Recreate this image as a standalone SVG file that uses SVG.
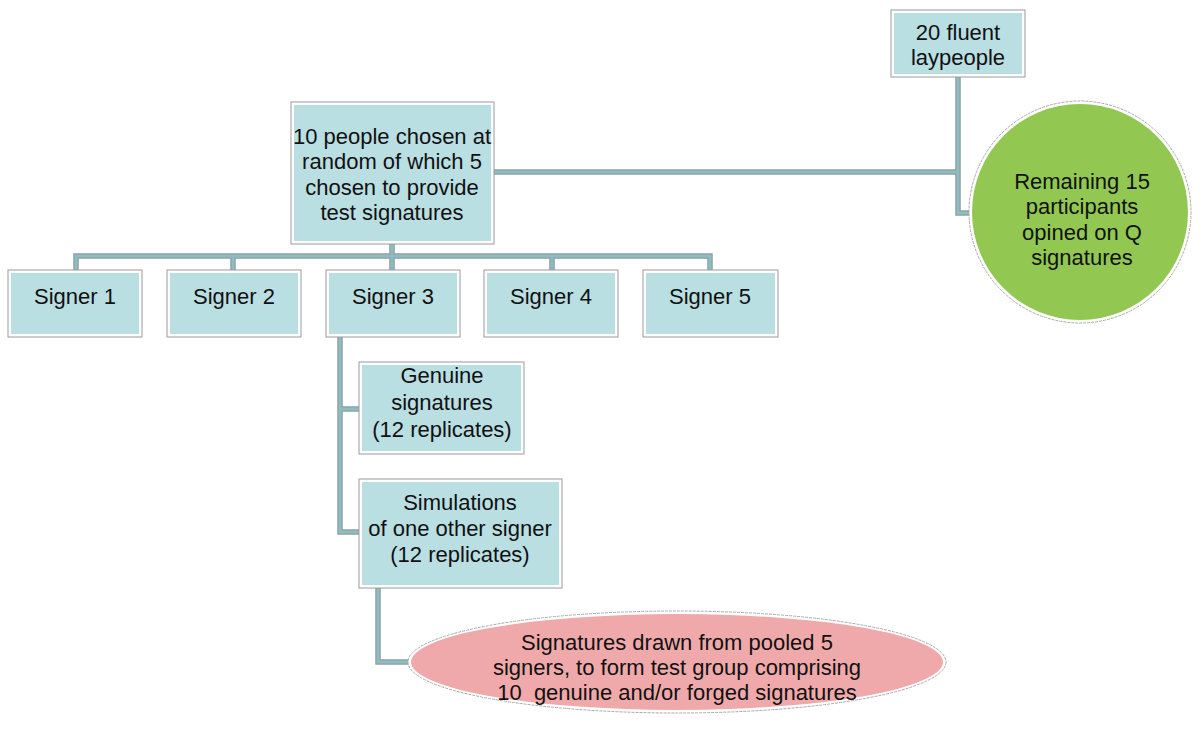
<svg xmlns="http://www.w3.org/2000/svg" width="1200" height="733" viewBox="0 0 1200 733">
<style>
.outer{fill:#ffffff;stroke:#9a9a9a;stroke-width:1}
.inner{fill:#b9dfe2}
.t{font-family:"Liberation Sans",Arial,sans-serif;font-size:22px;fill:#111;text-anchor:middle}
.cu{fill:none;stroke:#8c9fa2;stroke-width:5.5;stroke-linejoin:miter}
.ci{fill:none;stroke:#8dbcc1;stroke-width:3;stroke-linejoin:miter}
</style>
<defs>
<path id="conn" d="M958,77 V213 H970 M494,172 H958 M392,244 V270 M76,270 V256 H710 V270 M233,256 V270 M552,256 V270 M340,337 V532 H359 M340,409 H359 M378,588 V662 H409"/>
</defs>
<rect width="1200" height="733" fill="#ffffff"/>
<g id="connectors">
<use href="#conn" class="cu"/>
<use href="#conn" class="ci"/>
</g>
<g id="n-laypeople">
<rect class="outer" x="891" y="10" width="134" height="67"/>
<rect class="inner" x="894" y="13" width="128" height="61"/>
<text class="t" x="958" y="40">20 fluent</text>
<text class="t" x="958" y="65">laypeople</text>
</g>
<g id="n-ten">
<rect class="outer" x="291" y="102" width="203" height="142"/>
<rect class="inner" x="294" y="105" width="197" height="136"/>
<text class="t" x="392" y="144">10 people chosen at</text>
<text class="t" x="392" y="169">random of which 5</text>
<text class="t" x="392" y="195">chosen to provide</text>
<text class="t" x="392" y="220">test signatures</text>
</g>
<g id="n-remaining">
<circle cx="1080" cy="212" r="111" fill="#ffffff" stroke="#aaaaaa" stroke-width="1" stroke-dasharray="3 1"/>
<circle cx="1080" cy="212" r="108" fill="#92c851"/>
<text class="t" x="1082" y="189">Remaining 15</text>
<text class="t" x="1082" y="214">participants</text>
<text class="t" x="1082" y="240">opined on Q</text>
<text class="t" x="1082" y="265">signatures</text>
</g>
<g id="n-signer1">
<rect class="outer" x="8" y="270" width="134" height="67"/>
<rect class="inner" x="11" y="273" width="128" height="61"/>
<text class="t" x="75" y="304">Signer 1</text>
</g>
<g id="n-signer2">
<rect class="outer" x="167" y="270" width="134" height="67"/>
<rect class="inner" x="170" y="273" width="128" height="61"/>
<text class="t" x="234" y="304">Signer 2</text>
</g>
<g id="n-signer3">
<rect class="outer" x="326" y="270" width="134" height="67"/>
<rect class="inner" x="329" y="273" width="128" height="61"/>
<text class="t" x="393" y="304">Signer 3</text>
</g>
<g id="n-signer4">
<rect class="outer" x="484" y="270" width="134" height="67"/>
<rect class="inner" x="487" y="273" width="128" height="61"/>
<text class="t" x="551" y="304">Signer 4</text>
</g>
<g id="n-signer5">
<rect class="outer" x="643" y="270" width="135" height="67"/>
<rect class="inner" x="646" y="273" width="129" height="61"/>
<text class="t" x="710" y="304">Signer 5</text>
</g>
<g id="n-genuine">
<rect class="outer" x="359" y="362" width="165" height="92"/>
<rect class="inner" x="362" y="365" width="159" height="86"/>
<text class="t" x="442" y="383">Genuine</text>
<text class="t" x="442" y="410">signatures</text>
<text class="t" x="442" y="437">(12 replicates)</text>
</g>
<g id="n-simulations">
<rect class="outer" x="359" y="479" width="203" height="109"/>
<rect class="inner" x="362" y="482" width="197" height="103"/>
<text class="t" x="460" y="510">Simulations</text>
<text class="t" x="460" y="536">of one other signer</text>
<text class="t" x="460" y="562">(12 replicates)</text>
</g>
<g id="n-pooled">
<ellipse cx="677" cy="662" rx="269" ry="51" fill="#ffffff" stroke="#aaaaaa" stroke-width="1" stroke-dasharray="3 1"/>
<ellipse cx="677" cy="662" rx="266" ry="48" fill="#f0a9aa"/>
<text class="t" x="677" y="650">Signatures drawn from pooled 5</text>
<text class="t" x="677" y="675">signers, to form test group comprising</text>
<text class="t" x="677" y="700" xml:space="preserve">10  genuine and/or forged signatures</text>
</g>
</svg>
